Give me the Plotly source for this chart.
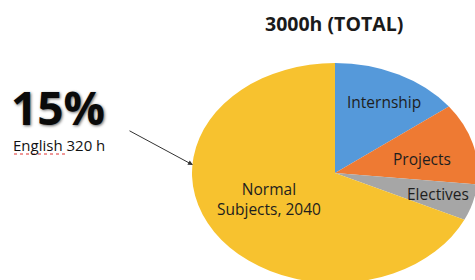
import plotly.graph_objects as go

# Data
labels = ["Internship", "Projects", "Electives", "Normal Subjects"]
hours = [440, 360, 160, 2040]
colors = ["#5599DA", "#EE7A33", "#A6A6A6", "#F7C22F"]
label_texts = ["Internship", "Projects", "Electives", "Normal<br>Subjects, 2040"]
title_text = "3000h (TOTAL)"
big_pct = "15%"
english_text = "English 320 h"

W, H = 475, 280
FONT = "Open Sans"

fig = go.Figure()
fig.add_trace(go.Pie(
    labels=labels,
    values=hours,
    sort=False,
    direction="clockwise",
    rotation=0,
    textinfo="none",
    hoverinfo="label+value",
    marker=dict(colors=colors, line=dict(width=0)),
    domain=dict(x=[225 / W, 445 / W], y=[0, 220 / H]),
    showlegend=False,
))

def px(x):
    return x / W

def py(y):
    return 1 - y / H

ann = []
# slice labels
label_pos = [(384, 102), (422, 159), (438, 194), (269, 199)]
for t, (x, y) in zip(label_texts, label_pos):
    ann.append(dict(text=t, x=px(x), y=py(y), xref="paper", yref="paper",
                    showarrow=False, xanchor="center", yanchor="middle",
                    font=dict(family=FONT, size=15.5, color="#1e1e1e")))
# title
ann.append(dict(text="<b>" + title_text + "</b>", x=px(334), y=py(23), xref="paper", yref="paper",
                showarrow=False, xanchor="center", yanchor="middle",
                font=dict(family=FONT, size=19.5, color="#1a1a1a")))
# big 15%
ann.append(dict(text="<b>" + big_pct + "</b>", x=px(9), y=py(107), xref="paper", yref="paper",
                showarrow=False, xanchor="left", yanchor="middle",
                font=dict(family=FONT, size=46, color="#0a0a0a",
                          shadow="1px 1px 3px #666")))
ann.append(dict(text=english_text, x=px(11), y=py(145), xref="paper", yref="paper",
                showarrow=False, xanchor="left", yanchor="middle",
                font=dict(family=FONT, size=15, color="#111111")))
# arrow
ann.append(dict(text="", x=px(193), y=py(165), xref="paper", yref="paper",
                showarrow=True, ax=-65, ay=-35, arrowhead=2, arrowsize=1,
                arrowwidth=1, arrowcolor="#333333"))

fig.update_layout(
    width=W, height=H,
    margin=dict(l=0, r=0, t=0, b=0),
    paper_bgcolor="white",
    plot_bgcolor="white",
    annotations=ann,
    shapes=[dict(type="line", xref="paper", yref="paper",
                 x0=px(14), x1=px(68), y0=py(154), y1=py(154),
                 line=dict(color="#e03030", width=1, dash="dot"))],
)

# remove page margin and stretch the pie into an ellipse (radii 143 x 110, as in the reference)
post = """
document.body.style.margin = '0';
document.body.style.overflow = 'hidden';
var gd = document.getElementById('{plot_id}');
var layer = gd.querySelector('.pielayer');
if (layer) {
  layer.style.transformOrigin = '335px 170px';
  layer.style.transform = 'translate(0px, 3px) scale(1.3, 1)';
}
"""
fig.write_html("out.html", post_script=post, config={"displayModeBar": False})
